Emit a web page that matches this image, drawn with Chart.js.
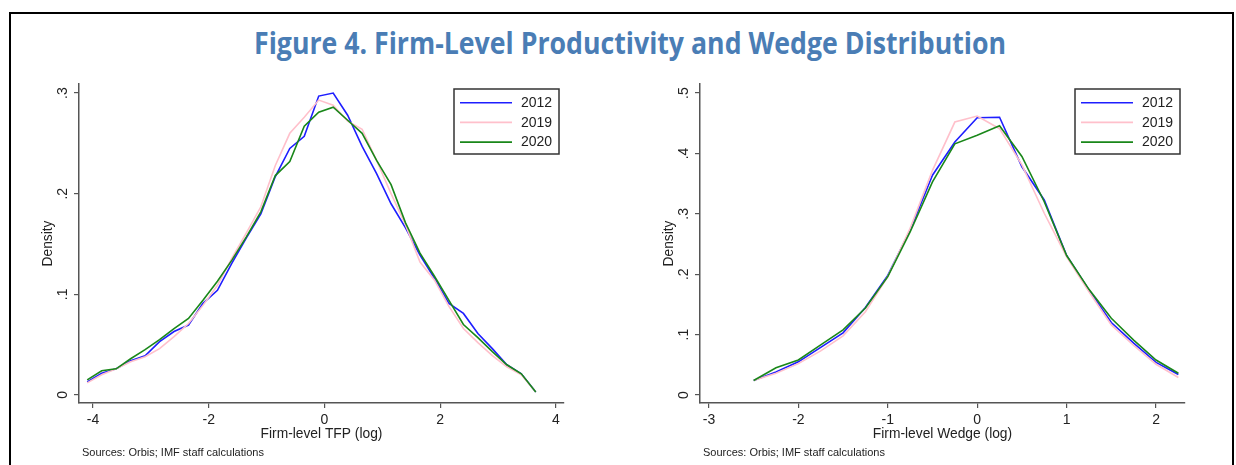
<!DOCTYPE html>
<html>
<head>
<meta charset="utf-8">
<script src="https://cdn.jsdelivr.net/npm/chart.js@4.4.1/dist/chart.umd.min.js"></script>
<style>
  html, body { margin: 0; padding: 0; background: #fff; }
  body { width: 1236px; height: 465px; position: relative; overflow: hidden; font-family: "Liberation Sans", Arial, sans-serif; }
  #frame { position: absolute; left: 9px; top: 12px; width: 1225px; height: 520px; border: 2px solid #000; box-sizing: border-box; }
  #title { position: absolute; left: 630px; top: 28px; white-space: nowrap; font: 700 30px "Open Sans", sans-serif; line-height: 30px; color: #4a7db5; transform-origin: center center; }
  .src { position: absolute; top: 446px; font: 11px "Liberation Sans", Arial, sans-serif; color: #222; white-space: nowrap; }
  canvas { position: absolute; top: 0; }
</style>
</head>
<body>
<div id="frame"></div>
<span id="title">Figure 4. Firm-Level Productivity and Wedge Distribution</span>
<canvas id="c1" width="620" height="465" style="left:0px"></canvas>
<canvas id="c2" width="616" height="465" style="left:620px"></canvas>
<div class="src" style="left:82px">Sources: Orbis; IMF staff calculations</div>
<div class="src" style="left:703px">Sources: Orbis; IMF staff calculations</div>
<script>
// ---------- Data ----------
const seriesNames = ['2012', '2019', '2020'];

const tfpX = [-4.1,-3.85,-3.6,-3.35,-3.1,-2.85,-2.6,-2.35,-2.1,-1.85,-1.6,-1.35,-1.1,-0.85,-0.6,-0.35,-0.1,0.15,0.4,0.65,0.9,1.15,1.4,1.65,1.9,2.15,2.4,2.65,2.9,3.15,3.4,3.65];
const tfp2012 = [0.013,0.0215,0.026,0.034,0.039,0.053,0.063,0.0695,0.091,0.104,0.131,0.156,0.180,0.217,0.245,0.257,0.297,0.300,0.278,0.247,0.220,0.190,0.166,0.139,0.116,0.091,0.081,0.061,0.046,0.030,0.021,0.003];
const tfp2019 = [0.012,0.020,0.026,0.033,0.038,0.046,0.058,0.071,0.089,0.109,0.136,0.161,0.187,0.228,0.260,0.276,0.293,0.288,0.272,0.264,0.233,0.200,0.169,0.132,0.114,0.088,0.066,0.052,0.039,0.028,0.020,0.003];
const tfp2020 = [0.015,0.024,0.026,0.036,0.045,0.055,0.066,0.076,0.094,0.113,0.134,0.157,0.182,0.218,0.232,0.267,0.281,0.286,0.273,0.260,0.233,0.209,0.171,0.141,0.118,0.094,0.070,0.057,0.043,0.030,0.021,0.003];
const tfpXTicks = [-4, -2, 0, 2, 4];
const tfpYTicks = [0, 0.1, 0.2, 0.3];
const tfpYLabels = ['0', '.1', '.2', '.3'];

const wedgeX = [-2.5,-2.25,-2,-1.75,-1.5,-1.25,-1,-0.75,-0.5,-0.25,0,0.25,0.5,0.75,1,1.25,1.5,1.75,2,2.25];
const wedge2012 = [0.024,0.038,0.055,0.079,0.103,0.145,0.198,0.273,0.364,0.419,0.459,0.460,0.378,0.323,0.231,0.174,0.120,0.086,0.054,0.034];
const wedge2019 = [0.024,0.036,0.052,0.073,0.098,0.138,0.196,0.276,0.372,0.452,0.462,0.441,0.381,0.301,0.229,0.171,0.116,0.082,0.051,0.029];
const wedge2020 = [0.024,0.045,0.058,0.083,0.108,0.144,0.196,0.270,0.353,0.416,0.430,0.446,0.395,0.320,0.231,0.175,0.127,0.091,0.058,0.036];
const wedgeXTicks = [-3, -2, -1, 0, 1, 2];
const wedgeYTicks = [0, 0.1, 0.2, 0.3, 0.4, 0.5];
const wedgeYLabels = ['0', '.1', '.2', '.3', '.4', '.5'];

// ---------- Styling ----------
const colors = ['rgb(30,30,255)', 'rgb(255,192,203)', 'rgb(25,135,25)'];
const axisColor = '#555';
const textColor = '#222';
const fontFam = '"Liberation Sans", Arial, sans-serif';

// Title fitting
(function () {
  const t = document.getElementById('title');
  const w = t.getBoundingClientRect().width;
  const s = 752 / w;
  t.style.transform = 'translateX(-50%) scaleX(' + s + ')';
})();

const yLabelPlugin = {
  id: 'yLabels',
  afterDraw(chart, args, opts) {
    const s = chart.scales.y, ctx = chart.ctx;
    ctx.save();
    ctx.font = '14px ' + fontFam;
    ctx.fillStyle = textColor;
    ctx.textAlign = 'center';
    ctx.textBaseline = 'middle';
    s.ticks.forEach((t, i) => {
      const y = s.getPixelForValue(t.value);
      ctx.save();
      ctx.translate(s.right - 16, y);
      ctx.rotate(-Math.PI / 2);
      ctx.fillText(opts.labels[i], 0, 0);
      ctx.restore();
    });
    ctx.restore();
  }
};

const boxLegend = {
  id: 'boxLegend',
  afterDraw(chart) {
    const a = chart.chartArea, ctx = chart.ctx;
    const w = 105, h = 65;
    const x0 = a.right - 5 - w, y0 = a.top + 5;
    ctx.save();
    ctx.fillStyle = '#fff';
    ctx.fillRect(x0, y0, w, h);
    ctx.strokeStyle = '#333';
    ctx.lineWidth = 1.5;
    ctx.strokeRect(x0, y0, w, h);
    ctx.font = '14px ' + fontFam;
    ctx.textAlign = 'left';
    ctx.textBaseline = 'middle';
    chart.data.datasets.forEach((d, i) => {
      const y = y0 + 13.7 + i * 19.7;
      ctx.strokeStyle = d.borderColor;
      ctx.lineWidth = 1.6;
      ctx.beginPath();
      ctx.moveTo(x0 + 6, y);
      ctx.lineTo(x0 + 58, y);
      ctx.stroke();
      ctx.fillStyle = textColor;
      ctx.fillText(d.label, x0 + 67, y + 0.5);
    });
    ctx.restore();
  }
};

function makeChart(id, xs, ys, xTicks, yTicks, yLabels, xr, yr, xTitle, pad) {
  const datasets = ys.map((arr, k) => ({
    label: seriesNames[k],
    data: xs.map((x, i) => ({ x: x, y: arr[i] })),
    borderColor: colors[k],
    backgroundColor: colors[k],
    borderWidth: 1.6,
    pointRadius: 0,
    tension: 0,
    fill: false,
    order: 3 - k
  }));
  return new Chart(document.getElementById(id), {
    type: 'line',
    data: { datasets },
    options: {
      responsive: false,
      animation: false,
      events: [],
      layout: { padding: pad },
      plugins: {
        legend: { display: false },
        tooltip: { enabled: false },
        yLabels: { labels: yLabels }
      },
      scales: {
        x: {
          type: 'linear',
          min: xr[0], max: xr[1],
          afterBuildTicks: s => { s.ticks = xTicks.map(v => ({ value: v })); },
          afterFit: s => { s.height = 40; },
          grid: { drawOnChartArea: false, drawTicks: true, tickLength: 5, color: axisColor, lineWidth: 1.2 },
          border: { display: true, color: axisColor, width: 1.5 },
          ticks: { autoSkip: false, maxRotation: 0, minRotation: 0, padding: 4, color: textColor, font: { family: fontFam, size: 14 }, callback: v => String(v) },
          title: { display: true, text: xTitle, color: textColor, font: { family: fontFam, size: 13.8 }, padding: { top: 0, bottom: 1 } }
        },
        y: {
          type: 'linear',
          min: yr[0], max: yr[1],
          afterBuildTicks: s => { s.ticks = yTicks.map(v => ({ value: v })); },
          afterFit: s => { s.width = 50; },
          grid: { drawOnChartArea: false, drawTicks: true, tickLength: 5, color: axisColor, lineWidth: 1.2 },
          border: { display: true, color: axisColor, width: 1.5 },
          ticks: { autoSkip: false, color: 'rgba(0,0,0,0)', font: { family: fontFam, size: 14 }, callback: () => '' },
          title: { display: true, text: 'Density', color: textColor, font: { family: fontFam, size: 13.8 }, padding: { top: 11, bottom: 0 } }
        }
      }
    },
    plugins: [yLabelPlugin, boxLegend]
  });
}

makeChart('c1', tfpX, [tfp2012, tfp2019, tfp2020], tfpXTicks, tfpYTicks, tfpYLabels,
  [-4.242, 4.138], [-0.008, 0.309], 'Firm-level TFP (log)', { left: 29, right: 56, top: 84, bottom: 22 });
makeChart('c2', wedgeX, [wedge2012, wedge2019, wedge2020], wedgeXTicks, wedgeYTicks, wedgeYLabels,
  [-3.1, 2.324], [-0.0132, 0.515], 'Firm-level Wedge (log)', { left: 30, right: 51, top: 84, bottom: 22 });
</script>
</body>
</html>
